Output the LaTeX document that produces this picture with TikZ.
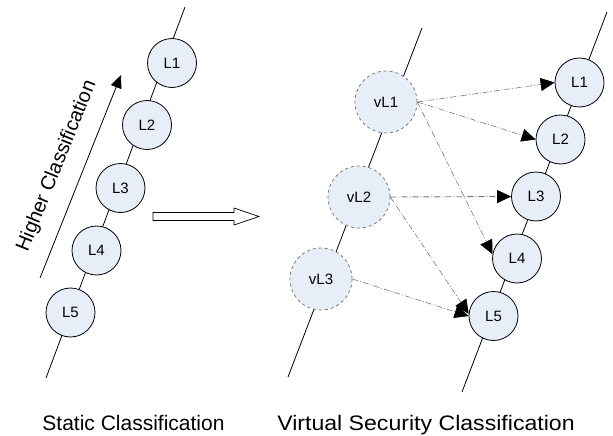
\documentclass[tikz,border=0pt]{standalone}
\usepackage{fontspec}
\setmainfont{Liberation Sans}
\usetikzlibrary{arrows.meta}
\definecolor{levelfill}{RGB}{232,238,247}
\definecolor{linkgray}{RGB}{120,120,120}
\tikzset{
  chain/.style={draw=black, line width=0.8pt},
  level/.style={circle, draw=black, line width=0.8pt, fill=levelfill,
    minimum size=49pt, inner sep=0pt, font=\fontsize{15}{17}\selectfont},
  vlevel/.style={circle, draw=linkgray, dashed, line width=0.8pt, fill=levelfill,
    minimum size=62pt, inner sep=0pt, font=\fontsize{15}{17}\selectfont},
  link/.style={draw=linkgray, line width=0.6pt,
    dash pattern=on 6pt off 2pt on 1pt off 2pt,
    -{Triangle[length=14pt, width=13pt, color=black]}},
  caption/.style={anchor=base, font=\fontsize{21}{24}\selectfont},
}
\begin{document}
\begin{tikzpicture}[x=1pt, y=-1pt]
\useasboundingbox (0,0) rectangle (613,436);

% axis lines behind each column of levels
\coordinate (ltop) at (185,7);
\coordinate (lbot) at (46,378);
\coordinate (vtop) at (422,28);
\coordinate (vbot) at (288,377);
\coordinate (rtop) at (607,12);
\coordinate (rbot) at (462,392);
\draw[chain] (ltop) -- (lbot);
\draw[chain] (vtop) -- (vbot);
\draw[chain] (rtop) -- (rbot);

% static classification levels
\node[level] (l1) at (172,63) {L1};
\node[level] (l2) at (147,125) {L2};
\node[level] (l3) at (120.5,188) {L3};
\node[level] (l4) at (96.5,250.5) {L4};
\node[level] (l5) at (70.5,312.5) {L5};

% ordering arrow with its label
\coordinate (hstart) at (40,278);
\coordinate (hend) at (121,75);
\draw[line width=0.8pt, -{Triangle[length=13pt, width=11pt]}] (hstart) -- (hend);
\node[rotate=68, font=\fontsize{20}{24}\selectfont] (hlabel) at (57,166) {Higher Classification};

% hollow transition arrow
\draw[line width=0.7pt, fill=white]
  (153,212.5) -- (234,212.5) -- (234,208) -- (259,216.5)
  -- (234,225) -- (234,220.5) -- (153,220.5) -- cycle;

% virtual levels
\node[vlevel] (v1) at (386,102) {vL1};
\node[vlevel] (v2) at (359,197) {vL2};
\node[vlevel] (v3) at (321,279) {vL3};

% mapped real levels
\node[level] (r1) at (579.5,82.5) {L1};
\node[level] (r2) at (560.5,139.5) {L2};
\node[level] (r3) at (536,196.5) {L3};
\node[level] (r4) at (517,258.5) {L4};
\node[level] (r5) at (493.5,316) {L5};

% mappings from virtual to real levels
\draw[link] (v1.east) -- (r1.west);
\draw[link] (v1.east) -- (r2.west);
\draw[link] (v1.east) -- (r4.170);
\draw[link, line width=0.9pt] (v2.east) -- (r3.west);
\draw[link] (v2.east) -- (r5.175);
\draw[link] (v3.east) -- (r5.west);

% captions
\node[caption] (cap1) at (133.5,430) {Static Classification};
\node[caption, xscale=1.1] (cap2) at (426,430) {Virtual Security Classification};
\end{tikzpicture}
\end{document}
